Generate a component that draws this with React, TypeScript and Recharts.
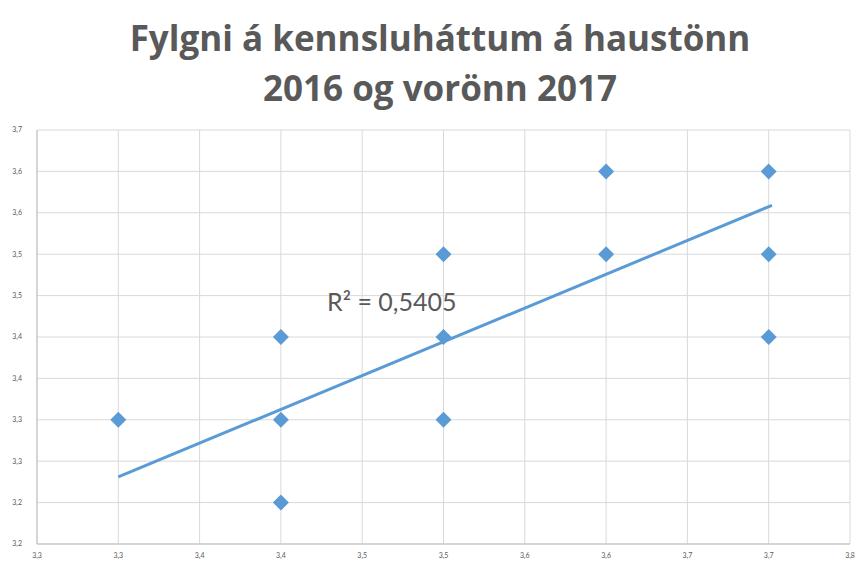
import {
  CartesianGrid,
  Scatter,
  ScatterChart,
  XAxis,
  YAxis,
} from "recharts";

// Excel-style axis: ticks every 0,05 but labels shown with one decimal
const xTicks = [3.25, 3.3, 3.35, 3.4, 3.45, 3.5, 3.55, 3.6, 3.65, 3.7, 3.75];
const xTickLabels = ["3,3", "3,3", "3,4", "3,4", "3,5", "3,5", "3,6", "3,6", "3,7", "3,7", "3,8"];
const yTicks = [3.15, 3.2, 3.25, 3.3, 3.35, 3.4, 3.45, 3.5, 3.55, 3.6, 3.65];
const yTickLabels = ["3,2", "3,2", "3,3", "3,3", "3,4", "3,4", "3,5", "3,5", "3,6", "3,6", "3,7"];

const haust = [3.3, 3.4, 3.4, 3.4, 3.5, 3.5, 3.5, 3.6, 3.6, 3.7, 3.7, 3.7];
const vor = [3.3, 3.4, 3.3, 3.2, 3.5, 3.4, 3.3, 3.6, 3.5, 3.6, 3.5, 3.4];

const trendX = [3.3, 3.702];
const trendY = [3.231, 3.559];

const points = haust.map((x, i) => ({ x, y: vor[i] }));
const trend = trendX.map((x, i) => ({ x, y: trendY[i] }));

const BLUE = "#5b9bd5";
const TEXT = "#595959";

function Diamond(props: any) {
  const { cx, cy } = props;
  const r = 8;
  return (
    <polygon
      points={`${cx},${cy - r} ${cx + r},${cy} ${cx},${cy + r} ${cx - r},${cy}`}
      fill={BLUE}
    />
  );
}

export default function App() {
  return (
    <div
      style={{
        position: "absolute",
        left: 0,
        top: 0,
        width: 864,
        height: 569,
        background: "#fff",
        fontFamily: "Lato, 'Open Sans', sans-serif",
      }}
    >
      <div
        style={{
          position: "absolute",
          left: 0,
          width: 880,
          top: 13,
          textAlign: "center",
          fontSize: 35,
          fontFamily: "'Open Sans', sans-serif",
          fontWeight: "bold",
          color: TEXT,
          lineHeight: "50px",
        }}
      >
        Fylgni á kennsluháttum á haustönn
        <br />
        2016 og vorönn 2017
      </div>
      <ScatterChart
        width={864}
        height={569}
        margin={{ top: 130, right: 14, left: 0, bottom: 0 }}
      >
        <CartesianGrid stroke="#d9d9d9" strokeWidth={1} />
        <XAxis
          type="number"
          dataKey="x"
          domain={[3.25, 3.75]}
          ticks={xTicks}
          tickFormatter={(v, i) => xTickLabels[i]}
          interval={0}
          height={25}
          tickLine={false}
          tickSize={0}
          tickMargin={9}
          axisLine={{ stroke: "#bfbfbf" }}
          tick={{ fontSize: 7, fill: TEXT }}
        />
        <YAxis
          type="number"
          dataKey="y"
          domain={[3.15, 3.65]}
          ticks={yTicks}
          tickFormatter={(v, i) => yTickLabels[i]}
          interval={0}
          width={37}
          tickLine={false}
          tickSize={0}
          tickMargin={15}
          axisLine={{ stroke: "#bfbfbf" }}
          tick={{ fontSize: 7, fill: TEXT }}
        />
        <Scatter
          data={trend}
          line={{ stroke: BLUE, strokeWidth: 3 }}
          shape={() => <g />}
          isAnimationActive={false}
        />
        <Scatter data={points} shape={Diamond} isAnimationActive={false} />
      </ScatterChart>
      <div
        style={{
          position: "absolute",
          left: 327,
          top: 286,
          fontSize: 25,
          color: TEXT,
          whiteSpace: "nowrap",
        }}
      >
        R² = 0,5405
      </div>
    </div>
  );
}
